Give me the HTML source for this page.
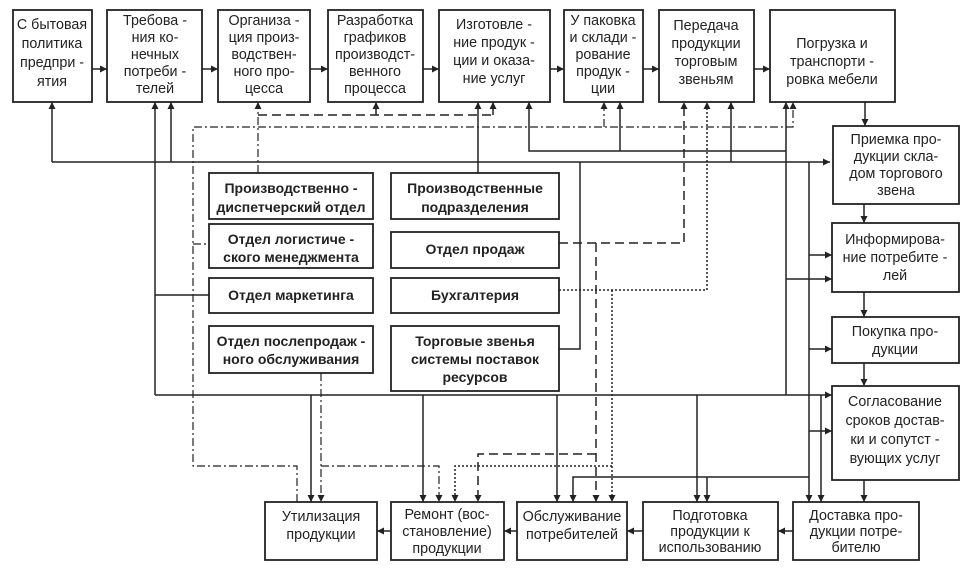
<!DOCTYPE html>
<html><head><meta charset="utf-8"><style>
html,body{margin:0;padding:0;background:#fff;}
svg{display:block;}
text{font-family:"Liberation Sans Narrow","Liberation Sans",sans-serif;font-size:14.3px;fill:#222;text-anchor:middle;dominant-baseline:central;}
.b{font-weight:bold;font-size:14px;}
rect{fill:#fff;stroke:#222;stroke-width:1.8;}
path,line{fill:none;stroke:#222;stroke-width:1.5;}
.da{stroke-dasharray:9 5;}
.dd{stroke-dasharray:8 3 2 3;stroke-width:1.2;}
.dt{stroke-dasharray:2 2;stroke-width:1.5;}
</style></head><body>
<svg width="969" height="578" viewBox="0 0 969 578" xmlns="http://www.w3.org/2000/svg">
<defs>
<marker id="a" viewBox="0 0 10 10" refX="10" refY="5" markerWidth="7" markerHeight="7" markerUnits="userSpaceOnUse" orient="auto"><path d="M0,0 L10,5 L0,10 z" style="fill:#222;stroke:none"/></marker>
</defs>

<g>
<line x1="92" y1="69" x2="107" y2="69" marker-end="url(#a)"/>
<line x1="202" y1="69" x2="218" y2="69" marker-end="url(#a)"/>
<line x1="310" y1="69" x2="328" y2="69" marker-end="url(#a)"/>
<line x1="423" y1="69" x2="439" y2="69" marker-end="url(#a)"/>
<line x1="550" y1="69" x2="564" y2="69" marker-end="url(#a)"/>
<line x1="643" y1="69" x2="659" y2="69" marker-end="url(#a)"/>
<line x1="754" y1="69" x2="770" y2="69" marker-end="url(#a)"/>
<line x1="865" y1="102" x2="865" y2="126" marker-end="url(#a)"/>
<line x1="864" y1="204" x2="864" y2="223" marker-end="url(#a)"/>
<line x1="864" y1="292" x2="864" y2="317" marker-end="url(#a)"/>
<line x1="864" y1="363" x2="864" y2="386" marker-end="url(#a)"/>
<line x1="864" y1="480" x2="864" y2="502" marker-end="url(#a)"/>
<line x1="793" y1="531" x2="778" y2="531" marker-end="url(#a)"/>
<line x1="643" y1="531" x2="627" y2="531" marker-end="url(#a)"/>
<line x1="517" y1="531" x2="504" y2="531" marker-end="url(#a)"/>
<line x1="391" y1="531" x2="377" y2="531" marker-end="url(#a)"/>

<path d="M52,162 H830" marker-end="url(#a)"/>
<line x1="52" y1="162" x2="52" y2="102" marker-end="url(#a)"/>
<line x1="171" y1="162" x2="171" y2="102" marker-end="url(#a)"/>
<line x1="731" y1="162" x2="731" y2="102" marker-end="url(#a)"/>
<line x1="155" y1="395" x2="155" y2="102" marker-end="url(#a)"/>
<path d="M155,395 H832" marker-end="url(#a)"/>
<path d="M155,295 H209"/>
<line x1="478" y1="173" x2="478" y2="102" marker-end="url(#a)"/>
<path d="M559,349 H580 V162"/>
<path d="M786,151 H529 V102" marker-end="url(#a)"/>
<line x1="620" y1="151" x2="620" y2="102" marker-end="url(#a)"/>
<line x1="786" y1="395" x2="786" y2="102" marker-end="url(#a)"/>
<path d="M786,279 H832" marker-end="url(#a)"/>
<line x1="809" y1="162" x2="809" y2="502" marker-end="url(#a)"/>
<path d="M809,255 H832" marker-end="url(#a)"/>
<path d="M809,349 H832" marker-end="url(#a)"/>
<path d="M809,431 H832" marker-end="url(#a)"/>
<line x1="821" y1="395" x2="821" y2="502" marker-end="url(#a)"/>
<line x1="697" y1="395" x2="697" y2="502" marker-end="url(#a)"/>
<path d="M809,477 H573 V502" marker-end="url(#a)"/>
<line x1="707" y1="477" x2="707" y2="502" marker-end="url(#a)"/>
<line x1="311" y1="395" x2="311" y2="502" marker-end="url(#a)"/>
<line x1="423" y1="395" x2="423" y2="502" marker-end="url(#a)"/>
<line x1="557" y1="395" x2="557" y2="502" marker-end="url(#a)"/>

<path class="da" d="M258,115 H493"/>
<line class="dd" x1="258" y1="173" x2="258" y2="102" marker-end="url(#a)"/>
<line x1="376" y1="115" x2="376" y2="102" marker-end="url(#a)"/>
<line x1="493" y1="115" x2="493" y2="102" marker-end="url(#a)"/>
<path class="dd" d="M297,502 V466 H193 V127 H793 V102" marker-end="url(#a)"/>
<line class="dd" x1="604" y1="127" x2="604" y2="102" marker-end="url(#a)"/>
<path class="dd" d="M193,244 H209"/>
<path class="dd" d="M321,373 V502" marker-end="url(#a)"/>
<path class="dd" d="M321,466 H439 V502" marker-end="url(#a)"/>
<path class="da" d="M559,243 H684 V102" marker-end="url(#a)"/>
<path class="da" d="M596,243 V502" marker-end="url(#a)"/>
<path class="da" d="M596,454 H478 V502" marker-end="url(#a)"/>
<path class="dt" d="M559,290 H707 V102" marker-end="url(#a)"/>
<path class="dt" d="M612,290 V502" marker-end="url(#a)"/>
<path class="dt" d="M612,466 H455 V502" marker-end="url(#a)"/>
</g>

<rect x="13" y="10" width="79" height="92"/>
<text x="52" y="25">С бытовая</text><text x="52" y="44">политика</text><text x="52" y="63">предпри -</text><text x="52" y="82">ятия</text>
<rect x="107" y="10" width="95" height="92"/>
<text x="155" y="21">Требова -</text><text x="155" y="38">ния ко-</text><text x="155" y="55">нечных</text><text x="155" y="72">потреби -</text><text x="155" y="89">телей</text>
<rect x="218" y="10" width="92" height="92"/>
<text x="264" y="21">Организа -</text><text x="264" y="38">ция произ-</text><text x="264" y="55">водствен-</text><text x="264" y="72">ного про-</text><text x="264" y="89">цесса</text>
<rect x="328" y="10" width="95" height="92"/>
<text x="375" y="21">Разработка</text><text x="375" y="38">графиков</text><text x="375" y="55">производст-</text><text x="375" y="72">венного</text><text x="375" y="89">процесса</text>
<rect x="439" y="10" width="111" height="92"/>
<text x="494" y="25">Изготовле -</text><text x="494" y="43">ние продук -</text><text x="494" y="61">ции и оказа-</text><text x="494" y="79">ние услуг</text>
<rect x="564" y="10" width="79" height="92"/>
<text x="603" y="21">У паковка</text><text x="603" y="38">и склади -</text><text x="603" y="55">рование</text><text x="603" y="72">продук -</text><text x="603" y="89">ции</text>
<rect x="659" y="10" width="95" height="92"/>
<text x="706" y="26">Передача</text><text x="706" y="44">продукции</text><text x="706" y="62">торговым</text><text x="706" y="80">звеньям</text>
<rect x="770" y="10" width="125" height="92"/>
<text x="832" y="44">Погрузка и</text><text x="832" y="62">транспорти -</text><text x="832" y="80">ровка мебели</text>

<rect x="833" y="126" width="126" height="78"/>
<text x="896" y="140">Приемка про-</text><text x="896" y="157">дукции скла-</text><text x="896" y="174">дом торгового</text><text x="896" y="191">звена</text>
<rect x="832" y="223" width="127" height="69"/>
<text x="895" y="240">Информирова-</text><text x="895" y="258">ние потребите -</text><text x="895" y="276">лей</text>
<rect x="832" y="317" width="127" height="46"/>
<text x="895" y="332">Покупка про-</text><text x="895" y="350">дукции</text>
<rect x="832" y="386" width="127" height="94"/>
<text x="895" y="402">Согласование</text><text x="895" y="421">сроков достав-</text><text x="895" y="440">ки и сопутст -</text><text x="895" y="459">вующих услуг</text>

<rect x="793" y="502" width="126" height="58"/>
<text x="856" y="516">Доставка про-</text><text x="856" y="532">дукции потре-</text><text x="856" y="548">бителю</text>
<rect x="643" y="502" width="135" height="58"/>
<text x="710" y="516">Подготовка</text><text x="710" y="532">продукции к</text><text x="710" y="548">использованию</text>
<rect x="517" y="502" width="110" height="58"/>
<text x="572" y="517">Обслуживание</text><text x="572" y="535">потребителей</text>
<rect x="391" y="502" width="113" height="58"/>
<text x="447" y="515">Ремонт (вос-</text><text x="447" y="532">становление)</text><text x="447" y="549">продукции</text>
<rect x="265" y="502" width="112" height="58"/>
<text x="321" y="517">Утилизация</text><text x="321" y="535">продукции</text>

<rect x="209" y="173" width="164" height="46"/>
<text class="b" x="291" y="188">Производственно -</text><text class="b" x="291" y="207">диспетчерский отдел</text>
<rect x="209" y="224" width="164" height="44"/>
<text class="b" x="291" y="239">Отдел логистиче -</text><text class="b" x="291" y="257">ского менеджмента</text>
<rect x="209" y="278" width="164" height="35"/>
<text class="b" x="291" y="295">Отдел маркетинга</text>
<rect x="209" y="326" width="164" height="47"/>
<text class="b" x="291" y="341">Отдел послепродаж -</text><text class="b" x="291" y="359">ного обслуживания</text>
<rect x="391" y="173" width="168" height="46"/>
<text class="b" x="475" y="188">Производственные</text><text class="b" x="475" y="207">подразделения</text>
<rect x="391" y="232" width="168" height="36"/>
<text class="b" x="475" y="249">Отдел продаж</text>
<rect x="391" y="278" width="168" height="35"/>
<text class="b" x="475" y="295">Бухгалтерия</text>
<rect x="391" y="326" width="168" height="65"/>
<text class="b" x="475" y="341">Торговые звенья</text><text class="b" x="475" y="359">системы поставок</text><text class="b" x="475" y="377">ресурсов</text>
</svg>
</body></html>
